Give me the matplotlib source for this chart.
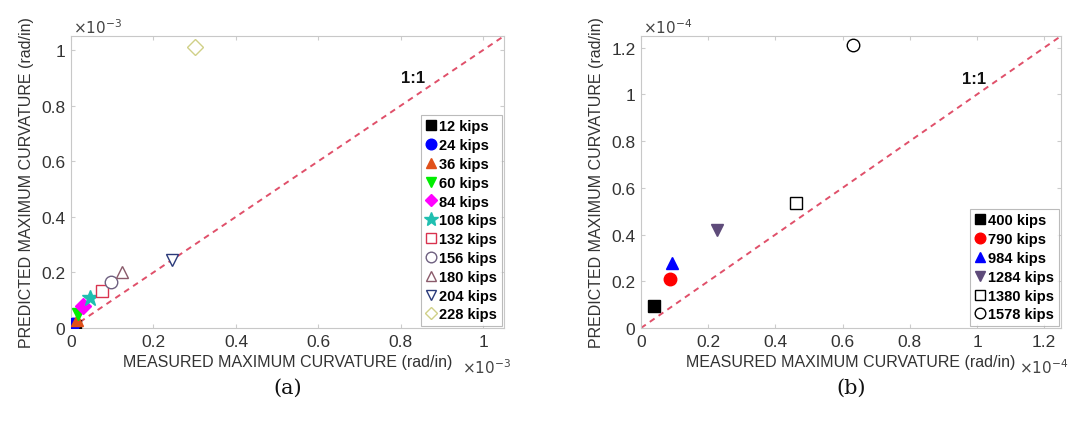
import numpy as np
import matplotlib.pyplot as plt
from matplotlib.ticker import FuncFormatter

plt.rcParams['font.family'] = ['Liberation Sans', 'DejaVu Sans']

# ---- (a) small-load cases, curvatures in units of 1e-3 rad/in ----
a_labels = ["12 kips", "24 kips", "36 kips", "60 kips", "84 kips", "108 kips",
            "132 kips", "156 kips", "180 kips", "204 kips", "228 kips"]
a_measured = [0.010, 0.005, 0.014, 0.018, 0.030, 0.046, 0.075, 0.097, 0.124, 0.245, 0.300]
a_predicted = [0.008, 0.015, 0.030, 0.050, 0.080, 0.107, 0.133, 0.165, 0.200, 0.245, 1.010]
a_markers = ["s", "o", "^", "v", "D", "*", "s", "o", "^", "v", "D"]
a_colors = ["#000000", "#0000ff", "#e0501a", "#00ee00", "#ff00ff", "#1fbfb0",
            "#d9334f", "#6e6080", "#8a5a6a", "#2a3a7a", "#d0d088"]
a_filled = [True] * 6 + [False] * 5

# ---- (b) large-load cases, curvatures in units of 1e-4 rad/in ----
b_labels = ["400 kips", "790 kips", "984 kips", "1284 kips", "1380 kips", "1578 kips"]
b_measured = [0.040, 0.086, 0.092, 0.225, 0.460, 0.630]
b_predicted = [0.093, 0.210, 0.280, 0.420, 0.536, 1.210]
b_markers = ["s", "o", "^", "v", "s", "o"]
b_colors = ["#000000", "#ff0000", "#0000ff", "#5e4b7a", "#000000", "#000000"]
b_filled = [True, True, True, True, False, False]

fig = plt.figure(figsize=(10.86, 4.27), dpi=100)
ax_a = fig.add_axes([71 / 1086, 1 - 329 / 427, 433 / 1086, 292 / 427])
ax_b = fig.add_axes([641 / 1086, 1 - 329 / 427, 420 / 1086, 292 / 427])


def draw_panel(ax, xs, ys, labels, markers, colors, filled, lim, expo, tag, ms):
    # 1:1 reference line
    ax.plot([0, lim], [0, lim], color="#e0506a", lw=1.4,
            linestyle=(0, (3, 2.5)), zorder=1)
    for x, y, lab, m, c, f in zip(xs, ys, labels, markers, colors, filled):
        size = ms * 1.3 if m == "*" else ms
        size = ms * 0.85 if m == "D" else size
        ax.plot(x, y, linestyle="none", marker=m, ms=size,
                markerfacecolor=c if f else "white",
                markeredgecolor=c, markeredgewidth=1.0, label=lab, zorder=3)
    ax.set_xlim(0, lim)
    ax.set_ylim(0, lim)
    ticks = np.arange(0, lim + 1e-9, 0.2)
    ax.set_xticks(ticks)
    ax.set_yticks(ticks)
    fmt = FuncFormatter(lambda v, p: "%g" % round(v, 1))
    ax.xaxis.set_major_formatter(fmt)
    ax.yaxis.set_major_formatter(fmt)
    ax.tick_params(direction="in", length=3, colors="#cccccc",
                   labelcolor="#333333", labelsize=12.5, top=True, right=True,
                   pad=4)
    for s in ax.spines.values():
        s.set_color("#c8c8c8")
        s.set_linewidth(0.8)
    ax.set_xlabel("MEASURED MAXIMUM CURVATURE (rad/in)", fontsize=11.5,
                  color="#333333", labelpad=4)
    ax.set_ylabel("PREDICTED MAXIMUM CURVATURE (rad/in)", fontsize=11.5,
                  color="#333333", labelpad=5)
    # exponent markers for both axes
    ax.text(0.005, 1.0, r"$\times10^{%d}$" % expo, transform=ax.transAxes,
            fontsize=11, color="#444444", ha="left", va="bottom")
    ax.annotate(r"$\times10^{%d}$" % expo, xy=(1, 0), xycoords="axes fraction",
                xytext=(5, -28), textcoords="offset points", fontsize=11,
                color="#444444", ha="right", va="center")
    ax.text(0.5, -0.17, tag, transform=ax.transAxes, fontsize=15,
            family=["DejaVu Serif"], ha="center", va="top", color="#111111")
    leg = ax.legend(loc="lower right", frameon=True, markerscale=0.85,
                    borderaxespad=0.15, handlelength=0.8, handletextpad=0.15,
                    labelspacing=0.33, borderpad=0.3, fancybox=False,
                    prop={"weight": "bold", "size": 10.5})
    leg.get_frame().set_edgecolor("#aaaaaa")
    leg.get_frame().set_linewidth(0.8)


draw_panel(ax_a, a_measured, a_predicted, a_labels, a_markers, a_colors,
           a_filled, 1.05, -3, "(a)", 9)
ax_a.text(0.83, 0.90, "1:1", fontsize=12, fontweight="bold", ha="center",
          va="center", color="#111111")

draw_panel(ax_b, b_measured, b_predicted, b_labels, b_markers, b_colors,
           b_filled, 1.25, -4, "(b)", 9)
ax_b.text(0.99, 1.066, "1:1", fontsize=12, fontweight="bold", ha="center",
          va="center", color="#111111")

fig.savefig("out.png", dpi=100)
